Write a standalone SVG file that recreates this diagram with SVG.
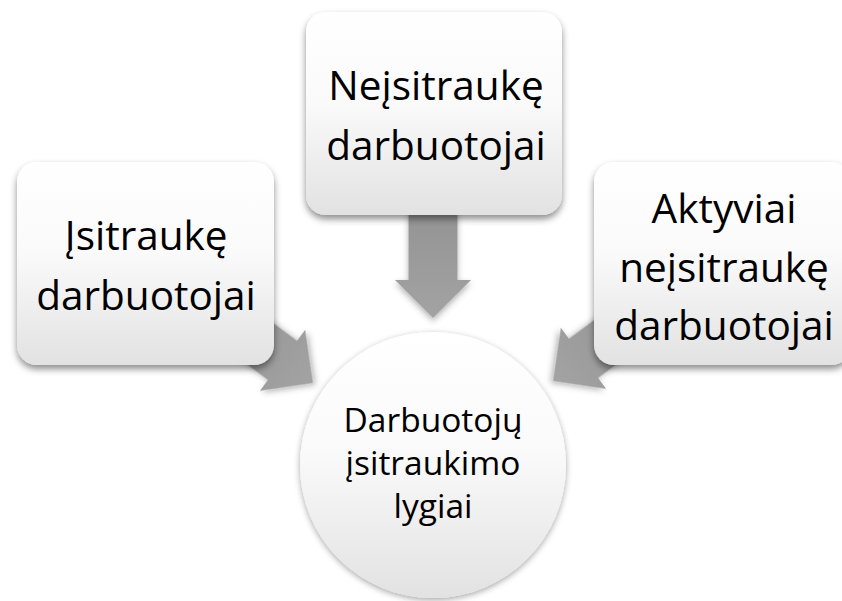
<svg xmlns="http://www.w3.org/2000/svg" width="842" height="601" viewBox="0 0 842 601">
  <defs>
    <linearGradient id="boxFill" x1="0" y1="0" x2="0" y2="1">
      <stop offset="0" stop-color="#ffffff"/>
      <stop offset="0.45" stop-color="#fafafa"/>
      <stop offset="1" stop-color="#e2e2e2"/>
    </linearGradient>
    <linearGradient id="arrowFill" x1="0" y1="0" x2="0" y2="1">
      <stop offset="0" stop-color="#8f8f8f"/>
      <stop offset="1" stop-color="#a3a3a3"/>
    </linearGradient>
    <filter id="boxShadow" x="-10%" y="-10%" width="120%" height="125%">
      <feDropShadow dx="0" dy="4" stdDeviation="3.5" flood-color="#000" flood-opacity="0.45"/>
    </filter>
    <filter id="circleShadow" x="-10%" y="-10%" width="120%" height="120%">
      <feDropShadow dx="0" dy="2" stdDeviation="3" flood-color="#000" flood-opacity="0.35"/>
    </filter>
    <filter id="arrowShadow" x="-20%" y="-20%" width="140%" height="140%">
      <feDropShadow dx="0" dy="3" stdDeviation="3" flood-color="#000" flood-opacity="0.3"/>
    </filter>
    <!-- block arrow pointing down, tip at the origin -->
    <path id="blockArrow" d="M -24.5,-140 L 24.5,-140 L 24.5,-38 L 38,-38 L 0,0 L -38,-38 L -24.5,-38 Z"/>
  </defs>
  <style>
    .box { fill: url(#boxFill); filter: url(#boxShadow); }
    .arrow { fill: url(#arrowFill); filter: url(#arrowShadow); }
    .big { font-family: "Open Sans", "Liberation Sans", sans-serif; font-size: 40.5px; fill: #000; text-anchor: middle; }
    .mid { font-family: "Open Sans", "Liberation Sans", sans-serif; font-size: 33.5px; fill: #000; text-anchor: middle; }
  </style>

  <rect width="842" height="601" fill="#ffffff"/>

  <!-- connectors -->
  <g id="connectors">
    <use href="#blockArrow" class="arrow" transform="translate(313,383) rotate(-53.4)"/>
    <use href="#blockArrow" class="arrow" transform="translate(433,318)"/>
    <use href="#blockArrow" class="arrow" transform="translate(553,381) rotate(53.4)"/>
  </g>

  <g id="node-engaged">
    <rect class="box" x="17" y="162" width="257" height="203" rx="20" ry="20"/>
    <text class="big" x="146" y="250">Įsitraukę</text>
    <text class="big" x="146" y="310">darbuotojai</text>
  </g>

  <g id="node-not-engaged">
    <rect class="box" x="306" y="12" width="256" height="203" rx="20" ry="20"/>
    <text class="big" x="436" y="100">Neįsitraukę</text>
    <text class="big" x="436" y="160">darbuotojai</text>
  </g>

  <g id="node-actively-disengaged">
    <rect class="box" x="594" y="162" width="257" height="203" rx="20" ry="20"/>
    <text class="big" x="724" y="223">Aktyviai</text>
    <text class="big" x="724" y="282">neįsitraukę</text>
    <text class="big" x="724" y="340">darbuotojai</text>
  </g>

  <g id="node-levels">
    <circle cx="433" cy="465" r="133" fill="url(#boxFill)" filter="url(#circleShadow)"/>
    <text class="mid" x="433" y="432">Darbuotojų</text>
    <text class="mid" x="433" y="475">įsitraukimo</text>
    <text class="mid" x="433" y="518">lygiai</text>
  </g>
</svg>
